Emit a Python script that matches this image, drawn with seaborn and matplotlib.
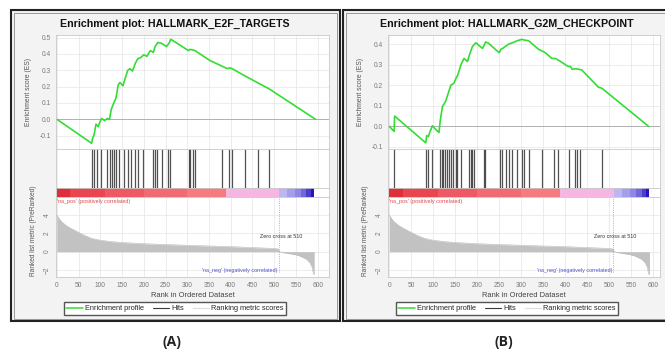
import matplotlib
matplotlib.use('Agg')
import matplotlib.pyplot as plt
from matplotlib.lines import Line2D
from matplotlib.patches import Rectangle
import pandas as pd
import seaborn as sns

W, H = 665, 354

# ---- values ----
titles = ['Enrichment plot: HALLMARK_E2F_TARGETS', 'Enrichment plot: HALLMARK_G2M_CHECKPOINT']
panel_tags = ['(A)', '(B)']

# running enrichment score, panel A
es_a_rank = [0, 80, 82, 86, 90, 95, 100, 103, 110, 116, 121, 125, 131, 136, 141, 145, 152, 157,
             163, 168, 174, 180, 186, 194, 200, 207, 215, 222, 226, 232, 241, 252, 258, 262,
             303, 306, 312, 318, 352, 380, 392, 398, 403, 433, 463, 489, 595]
es_a = [0.0, -0.147, -0.12, -0.09, -0.03, -0.045, -0.01, 0.005, -0.008, 0.005, -0.002, 0.06,
        0.1, 0.13, 0.21, 0.225, 0.205, 0.25, 0.3, 0.31, 0.295, 0.34, 0.37, 0.38, 0.395, 0.385,
        0.42, 0.41, 0.445, 0.47, 0.465, 0.445, 0.465, 0.49, 0.42, 0.428, 0.425, 0.42, 0.36,
        0.325, 0.31, 0.315, 0.31, 0.265, 0.222, 0.185, 0.0]
hits_a = [81, 85, 93, 102, 116, 123, 127, 131, 135, 142, 155, 163, 170, 179, 186, 199, 222,
          226, 230, 241, 256, 260, 304, 307, 312, 317, 380, 397, 402, 433, 463, 489]

# running enrichment score, panel B
es_b_rank = [0, 7, 11, 12, 83, 85, 89, 91, 98, 106, 113, 116, 121, 128, 134, 140, 147, 152,
             156, 163, 170, 178, 182, 189, 194, 197, 212, 216, 219, 225, 250, 254, 258, 265,
             272, 280, 291, 302, 306, 317, 340, 349, 355, 370, 378, 384, 408, 412, 416, 423,
             430, 438, 476, 484, 590]
es_b = [0.0, -0.016, -0.024, 0.05, -0.08, -0.045, -0.05, -0.035, 0.003, -0.016, -0.03, 0.03,
        0.097, 0.121, 0.16, 0.2, 0.21, 0.235, 0.25, 0.3, 0.33, 0.315, 0.345, 0.387, 0.4, 0.406,
        0.379, 0.395, 0.41, 0.405, 0.358, 0.375, 0.379, 0.39, 0.4, 0.406, 0.416, 0.423, 0.42,
        0.416, 0.374, 0.365, 0.358, 0.33, 0.33, 0.323, 0.29, 0.292, 0.277, 0.28, 0.278, 0.274,
        0.19, 0.185, 0.0]
hits_b = [11, 83, 89, 98, 115, 119, 122, 127, 132, 136, 140, 145, 151, 155, 163, 181, 185, 189,
          193, 215, 218, 253, 257, 265, 272, 280, 291, 301, 306, 317, 348, 374, 383, 410, 423,
          428, 434, 484]

# ranked list metric (same dataset in both panels)
metric_rank = [0, 3, 6, 10, 15, 20, 30, 40, 50, 60, 70, 80, 90, 100, 125, 150, 200, 250, 300,
               350, 400, 450, 500, 509, 511, 513, 520, 540, 555, 565, 575, 582, 587, 590, 592]
metric_val = [4.0, 3.75, 3.55, 3.3, 3.1, 2.9, 2.6, 2.35, 2.1, 1.85, 1.65, 1.45, 1.35, 1.25, 1.1,
              1.0, 0.87, 0.78, 0.7, 0.62, 0.55, 0.45, 0.35, 0.3, 0.08, -0.02, -0.1, -0.25, -0.4,
              -0.6, -0.85, -1.2, -1.7, -2.4, -2.5]
zero_cross = 510

# heat bar under the hits
cbar_edges = [0, 30, 110, 200, 300, 388, 512, 530, 548, 562, 574, 584, 592]
cbar_colors = ['#df2f38', '#ea4650', '#ee5a64', '#f26b73', '#f67b80', '#f6b6e2',
               '#bcb6f2', '#a59eec', '#8e87e6', '#7067dc', '#4a3ed0', '#2714bc']

x_ticks = list(range(0, 601, 50))
es_ticks = [[-0.1, 0.0, 0.1, 0.2, 0.3, 0.4, 0.5], [-0.1, 0.0, 0.1, 0.2, 0.3, 0.4]]
metric_ticks = [-2, 0, 2, 4]

# ---- layout (pixels) ----
panels = [
    dict(border=(11, 340), plot=(56, 329), xlim=(-2, 626), es_ylim=(-0.182, 0.516),
         es=(es_a_rank, es_a), hits=hits_a, centre=175, tag_x=172),
    dict(border=(343, 675), plot=(388, 660), xlim=(-3, 616), es_ylim=(-0.11, 0.444),
         es=(es_b_rank, es_b), hits=hits_b, centre=507, tag_x=504),
]
ROW_ES = (35, 149)
ROW_HITS = (149, 188)
ROW_CBAR = (188, 197)
ROW_RANK = (197, 277)

sns.set_style('white')
plt.rcParams['font.family'] = ['Liberation Sans', 'DejaVu Sans']

GRID = '#e4e4e4'
TICK = '#7a7a7a'
SPINE = '#c8c8c8'
GREEN = '#33dd33'


def px_axes(fig, xs, ys):
    x0, x1 = xs
    y0, y1 = ys
    return fig.add_axes([x0 / W, 1 - y1 / H, (x1 - x0) / W, (y1 - y0) / H])


def style_axes(ax, xlim):
    ax.set_xlim(*xlim)
    ax.set_facecolor('white')
    for s in ax.spines.values():
        s.set_color(SPINE)
        s.set_linewidth(0.6)
    ax.set_xticks(x_ticks)
    ax.grid(True, color=GRID, lw=0.5)
    ax.set_axisbelow(True)
    ax.tick_params(colors=TICK, labelsize=4.8, length=2, width=0.5, pad=1.5)
    ax.set_xlabel('')
    ax.set_ylabel('')


fig = plt.figure(figsize=(W / 100, H / 100), dpi=100)
fig.patch.set_facecolor('white')

for i, p in enumerate(panels):
    bx0, bx1 = p['border']
    # outer double frame with light grey fill
    fig.add_artist(Rectangle((bx0 / W, 1 - 321 / H), (bx1 - bx0) / W, (321 - 10) / H,
                             transform=fig.transFigure, facecolor='#f3f3f3',
                             edgecolor='#222222', lw=1.5, zorder=-2))
    fig.add_artist(Rectangle(((bx0 + 2.5) / W, 1 - 318.5 / H), (bx1 - bx0 - 5) / W, (316 - 10) / H,
                             transform=fig.transFigure, facecolor='none',
                             edgecolor='#8a8a8a', lw=0.6, zorder=-1))

    fig.text(p['centre'] / W, 1 - 24 / H, titles[i], ha='center', va='center',
             fontsize=7.7, fontweight='bold', color='#111111')

    pw = p['plot'][1] - p['plot'][0]

    # enrichment score
    ax_es = px_axes(fig, p['plot'], ROW_ES)
    df = pd.DataFrame({'rank': p['es'][0], 'es': p['es'][1]})
    sns.lineplot(data=df, x='rank', y='es', color=GREEN, lw=1.2, estimator=None,
                 sort=False, ax=ax_es)
    ax_es.axhline(0, color='#b0b0b0', lw=0.7, zorder=1)
    style_axes(ax_es, p['xlim'])
    ax_es.set_ylim(*p['es_ylim'])
    ax_es.set_yticks(es_ticks[i])
    ax_es.set_yticklabels([f'{t:.1f}' for t in es_ticks[i]])
    ax_es.tick_params(axis='x', labelbottom=False, length=0)
    ax_es.set_ylabel('Enrichment score (ES)', fontsize=4.9, color='#555555')
    ax_es.yaxis.set_label_coords(-24 / pw, 0.5)

    # hits
    ax_h = px_axes(fig, p['plot'], ROW_HITS)
    ax_h.vlines(p['hits'], 0, 1, color='#333333', lw=0.9, alpha=0.85)
    style_axes(ax_h, p['xlim'])
    ax_h.set_ylim(0, 1)
    ax_h.set_yticks([])
    ax_h.tick_params(axis='x', labelbottom=False, length=0)

    # heat bar
    ax_c = px_axes(fig, p['plot'], ROW_CBAR)
    for lo, hi, c in zip(cbar_edges[:-1], cbar_edges[1:], cbar_colors):
        ax_c.axvspan(lo, hi, color=c, lw=0)
    style_axes(ax_c, p['xlim'])
    ax_c.grid(False)
    ax_c.set_yticks([])
    ax_c.tick_params(axis='x', labelbottom=False, length=0)

    # ranked list metric
    ax_r = px_axes(fig, p['plot'], ROW_RANK)
    ax_r.fill_between(metric_rank, metric_val, 0, color='#c2c2c2', lw=0)
    sns.lineplot(x=metric_rank, y=metric_val, color='#b8b8b8', lw=0.4, estimator=None,
                 sort=False, ax=ax_r)
    ax_r.axvline(zero_cross, ymin=0.06, ymax=1, color='#9a9a9a', lw=0.6, ls=':')
    style_axes(ax_r, p['xlim'])
    ax_r.set_ylim(-2.76, 5.96)
    ax_r.set_yticks(metric_ticks)
    ax_r.tick_params(axis='y', labelrotation=90)
    for lab in ax_r.get_yticklabels():
        lab.set_va('center')
    ax_r.set_ylabel('Ranked list metric (PreRanked)', fontsize=4.7, color='#555555')
    ax_r.yaxis.set_label_coords(-19 / pw, 0.575)
    ax_r.set_xlabel('Rank in Ordered Dataset', fontsize=5.4, color='#444444')
    ax_r.xaxis.set_label_coords(0.5, -15 / 80)
    ax_r.text(0, 5.45, "'na_pos' (positively correlated)", fontsize=3.9, color='#e04848',
              ha='left', va='center')
    ax_r.text(421, -2.1, "'na_neg' (negatively correlated)", fontsize=3.9, color='#5050d8',
              ha='center', va='center')
    ax_r.text(515, 1.7, f'Zero cross at {zero_cross}', fontsize=3.9, color='#333333',
              ha='center', va='center')

    handles = [Line2D([], [], color=GREEN, lw=1.1), Line2D([], [], color='#3a3a3a', lw=0.8),
               Line2D([], [], color='#dddddd', lw=0.8)]
    fig.legend(handles, ['Enrichment profile', 'Hits', 'Ranking metric scores'],
               loc='center', bbox_to_anchor=(p['centre'] / W, 1 - 308.5 / H),
               ncol=3, fontsize=5.3, frameon=True, fancybox=False, edgecolor='#555555',
               facecolor='white', framealpha=1, handlelength=2.2, handletextpad=0.3,
               columnspacing=1.2, borderpad=0.35)

    fig.text(p['tag_x'] / W, 1 - 342 / H, panel_tags[i], ha='center', va='center',
             fontsize=10, fontweight='bold', color='#222222', family=['Open Sans', 'DejaVu Sans'])

fig.savefig('out.png', dpi=100)
